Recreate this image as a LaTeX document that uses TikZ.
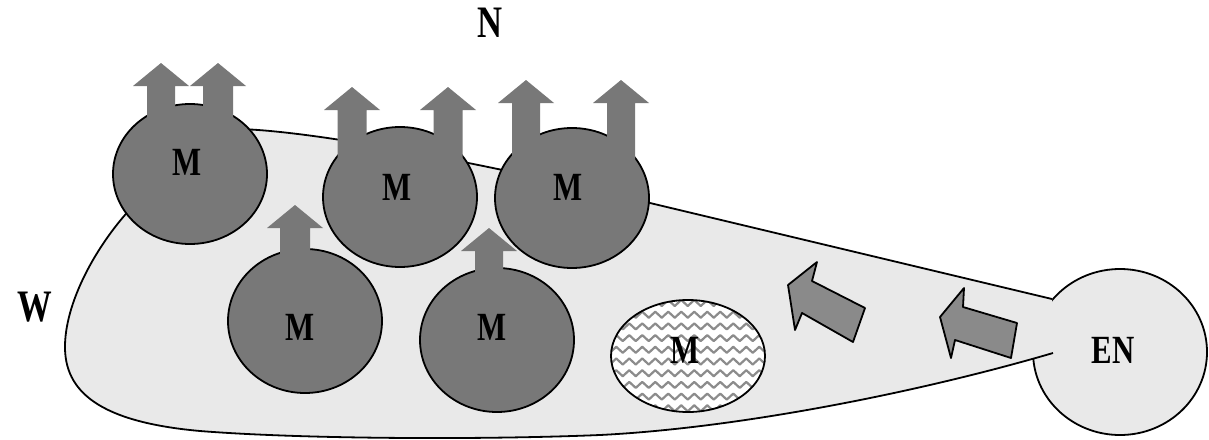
\documentclass[tikz,border=0pt]{standalone}
\usepackage{fontspec}
\setmainfont{Liberation Serif}[FakeStretch=0.77]
\usetikzlibrary{shapes.geometric,decorations.pathmorphing}
\definecolor{blobfill}{RGB}{233,233,233}
\definecolor{mfill}{RGB}{120,120,120}
\definecolor{sidefill}{RGB}{138,138,138}
\definecolor{wavecol}{RGB}{140,140,140}
% up arrow: centre x, tip y, half shaft width, shaft bottom y
\newcommand\uparr[4]{%
  \fill[mfill] (#1-#3,#4) -- (#1-#3,#2+23) -- (#1-28,#2+23) -- (#1,#2)
     -- (#1+28,#2+23) -- (#1+#3,#2+23) -- (#1+#3,#4) -- cycle;}
\newcommand\blobpath{(1053,353) .. controls (920,392) and (740,428) .. (600,435)
  .. controls (480,440) and (300,439) .. (200,431)
  .. controls (100,422) and (64,392) .. (65,345)
  .. controls (66,298) and (100,240) .. (135,204) -- (240,129)
  .. controls (330,132) and (520,172) .. (650,203) -- (1052,299)}
\begin{document}
\begin{tikzpicture}[x=1pt,y=-1pt,line join=round,
  outline/.style={draw=black,line width=1.8pt},
  mball/.style={ellipse,outline,fill=mfill,minimum width=154pt,minimum height=140pt,inner sep=0pt},
  lbl/.style={font=\fontsize{40}{42}\selectfont\bfseries,inner sep=0pt},
  biglbl/.style={font=\fontsize{45}{47}\selectfont\bfseries,inner sep=0pt},
  sidearrow/.style={outline,fill=sidefill},
  wave/.style={draw=wavecol,line width=2.2pt,decorate,decoration={zigzag,segment length=13pt,amplitude=3pt}}]
\useasboundingbox (0,0) rectangle (1209,439);
% EN circle
\node[ellipse,outline,fill=blobfill,minimum width=174pt,minimum height=166pt,inner sep=0pt] (enc) at (1120,352) {};
% blob W
\fill[blobfill] \blobpath -- cycle;
\draw[outline] \blobpath;
% M balls
\node[mball] (c1) at (190,174) {};
\node[mball] (c2) at (400,197) {};
\node[mball] (c3) at (572,198) {};
\node[mball,minimum height=144pt] (c4) at (305,321) {};
\node[mball,minimum height=144pt] (c5) at (497,340) {};
% wavy ball
\node[ellipse,fill=white,minimum width=154pt,minimum height=112pt,inner sep=0pt] (c6) at (688,356) {};
\begin{scope}
  \clip (c6.center) ellipse [x radius=77,y radius=56];
  \foreach \k in {0,...,10}{\draw[wave] (600,303+11.7*\k) -- (780,303+11.7*\k);}
\end{scope}
\draw[outline] (c6.center) ellipse [x radius=77,y radius=56];
% up arrows
\uparr{161}{63}{14}{150}
\uparr{218}{63}{15}{150}
\uparr{352}{87}{14.5}{170}
\uparr{448}{87}{14.5}{170}
\uparr{526}{80}{14}{170}
\uparr{621}{80}{14}{170}
\uparr{295}{205}{15}{300}
\uparr{489}{228}{14}{310}
% side arrows
\draw[sidearrow] (788,285) -- (817,262) -- (812,281) -- (865,308) -- (853,342) -- (802,313) -- (795,330) -- cycle;
\draw[sidearrow] (940,317) -- (964,288) -- (963,307) -- (1017,323) -- (1011,358) -- (955,340) -- (951,358) -- cycle;
% labels
\node[lbl] (m1) at (187,162) {M};
\node[lbl] (m2) at (397,187) {M};
\node[lbl] (m3) at (568,187) {M};
\node[lbl] (m4) at (300,327) {M};
\node[lbl] (m5) at (492,327) {M};
\node[lbl] (m6) at (685,350) {M};
\node[lbl] (en) at (1113,350) {EN};
\node[biglbl] (n) at (490,23) {N};
\node[biglbl] (w) at (35,307) {W};
\end{tikzpicture}
\end{document}
